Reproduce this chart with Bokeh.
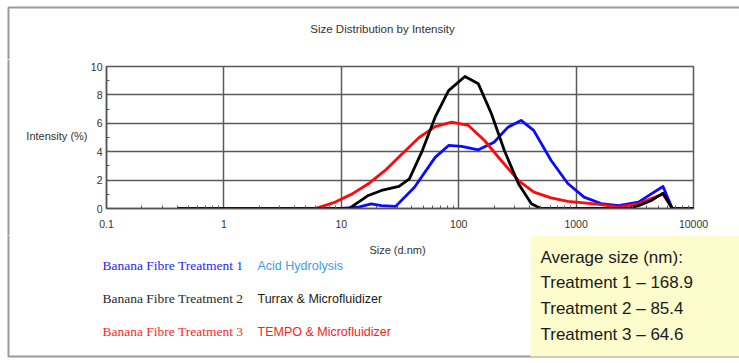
from bokeh.plotting import figure
from bokeh.models import (Label, BoxAnnotation, FixedTicker, CustomJSTickFormatter,
                          SingleIntervalTicker, Range1d, Span)
from bokeh.layouts import column, row
from bokeh.embed import file_html
from bokeh.resources import INLINE

# ---- data ----
t1_size = [0.4, 10, 14, 18, 22, 29, 42, 63, 82, 106, 147, 200, 263, 340, 435, 613,
           850, 1170, 1630, 2300, 3400, 4370, 5500, 6600, 10000]
t1_int = [0, 0, 0.1, 0.33, 0.2, 0.15, 1.5, 3.6, 4.44, 4.37, 4.13, 4.67, 5.73, 6.2, 5.5, 3.38,
          1.76, 0.8, 0.35, 0.2, 0.45, 1.03, 1.55, 0, 0]

t2_size = [0.4, 11.7, 14, 17, 22, 31, 38, 49, 63, 82, 113, 147, 190, 245, 323, 416, 500,
           2800, 3400, 4370, 5500, 6600, 10000]
t2_int = [0, 0, 0.45, 0.92, 1.27, 1.55, 2.09, 4.08, 6.43, 8.3, 9.3, 8.78, 6.67, 4.08, 1.74, 0.33, 0,
          0, 0.2, 0.56, 1.08, 0, 0]

t3_size = [0.4, 6, 8.9, 12.4, 17, 23.6, 33, 46, 63, 87, 121, 166, 230, 323, 437, 613, 850,
           1170, 1630, 2300, 3400, 4370, 5500, 6600, 10000]
t3_int = [0, 0, 0.45, 1.03, 1.74, 2.68, 3.85, 5.0, 5.77, 6.08, 5.85, 4.79, 3.38, 1.97, 1.15, 0.75, 0.5,
          0.4, 0.28, 0.1, 0.33, 0.7, 1.0, 0, 0]

x_ticks = [0.1, 1, 10, 100, 1000, 10000]
x_tick_labels = ["0.1", "1", "10", "100", "1000", "10000"]

title_text = "Size Distribution by Intensity"
y_label = "Intensity (%)"
x_label = "Size (d.nm)"
legend_left = ["Banana Fibre Treatment 1", "Banana Fibre Treatment 2", "Banana Fibre Treatment 3"]
legend_right = ["Acid Hydrolysis", "Turrax & Microfluidizer", "TEMPO & Microfluidizer"]
avg_lines = ["Average size (nm):", "Treatment 1 \u2013 168.9", "Treatment 2 \u2013 85.4",
             "Treatment 3 \u2013 64.6"]

# ---- layout (page pixel positions) ----
W = 739
ROW_A = 59      # top strip height (title)
ROW_B_END = 235  # chart row ends here
H = 362
LW = 87         # width of the strip left of the chart figure
BORDER = "#9a9a9a"


def panel(w, x0, x1, ytop, ybot):
    f = figure(width=w, height=ybot - ytop, x_range=Range1d(x0, x1), y_range=Range1d(ybot, ytop),
               output_backend="svg", toolbar_location=None, min_border=0,
               x_axis_location=None, y_axis_location=None, outline_line_color=None,
               background_fill_color="white", border_fill_color="white")
    f.xgrid.visible = False
    f.ygrid.visible = False
    f.frame_align = False
    return f


def lab(f, text, px, py, size, color, font="Liberation Sans", align="left"):
    f.add_layout(Label(x=px, y=py, text=text, text_font=font, text_font_size=size,
                       text_color=color, text_align=align, text_baseline="middle"))


# --- top strip ---
top = panel(W, 0, W, 0, ROW_A)
top.line([8, 8, W + 5], [ROW_A + 2, 7, 7], line_color=BORDER, line_width=2)
lab(top, title_text, 382, 28, "11.5px", "#333333", align="center")

# --- left strip ---
left = panel(LW, 0, LW, ROW_A, ROW_B_END)
left.add_layout(Span(location=8, dimension="height", line_color=BORDER, line_width=2))
lab(left, y_label, LW, 135, "11px", "#333333", align="right")

# --- chart ---
p = figure(width=W - LW, height=ROW_B_END - ROW_A, x_axis_type="log",
           x_range=(0.1, 10000), y_range=(0, 10),
           output_backend="svg", toolbar_location=None,
           min_border_left=16, min_border_right=46, min_border_top=66 - ROW_A,
           min_border_bottom=ROW_B_END - 208,
           background_fill_color="white", border_fill_color="white")
p.frame_align = False

p.xaxis.ticker = FixedTicker(ticks=x_ticks,
                             minor_ticks=[m * 10 ** e for e in range(-1, 4) for m in range(2, 10)])
p.xgrid.ticker = FixedTicker(ticks=x_ticks)
p.xaxis.formatter = CustomJSTickFormatter(args=dict(tvals=x_ticks, tlabs=x_tick_labels),
                                          code="""
for (let i = 0; i < tvals.length; i++) { if (Math.abs(tvals[i] - tick) < 1e-9 * tvals[i]) return tlabs[i]; }
return '';
""")
p.yaxis.ticker = SingleIntervalTicker(interval=2, num_minor_ticks=2)
p.ygrid.ticker = SingleIntervalTicker(interval=2)

for ax in (p.xaxis, p.yaxis):
    ax.axis_line_color = "#555555"
    ax.axis_line_width = 1.5
    ax.major_tick_line_color = "#555555"
    ax.minor_tick_line_color = "#555555"
    ax.major_tick_in = 0
    ax.major_tick_out = 0
    ax.minor_tick_in = 3
    ax.minor_tick_out = 0
    ax.major_label_text_font = "Liberation Sans"
    ax.major_label_text_font_size = "10.5px"
    ax.major_label_text_color = "#333333"
p.xaxis.major_label_standoff = 11
p.yaxis.major_label_standoff = 4

for g in (p.xgrid, p.ygrid):
    g.grid_line_color = "#5a5a5a"
    g.grid_line_width = 1.5
p.outline_line_color = "#5a5a5a"
p.outline_line_width = 1.5

p.line(t1_size, t1_int, line_color="#0a0aff", line_width=2.8, line_join="round")
p.line(t3_size, t3_int, line_color="#ff0a0a", line_width=2.8, line_join="round")
p.line(t2_size, t2_int, line_color="#000000", line_width=2.8, line_join="round")

# --- bottom strip ---
bot = panel(W, 0, W, ROW_B_END, H)
bot.add_layout(BoxAnnotation(left=530, right=W + 5, top=ROW_B_END, bottom=356,
                             fill_color="#fdfccc", fill_alpha=1, line_alpha=0))
bot.line([8, 8, W + 5], [ROW_B_END - 2, 356, 356], line_color=BORDER, line_width=2)
lab(bot, x_label, 397, 249, "11px", "#333333", align="center")

left_colors = ["#2626ff", "#2a2a2a", "#ff2a2a"]
right_colors = ["#3a9cf0", "#1a1a1a", "#ff2020"]
rows_y = [265, 298, 331]
for t, c, y in zip(legend_left, left_colors, rows_y):
    lab(bot, t, 102, y, "13.5px", c, font="Liberation Serif")
for t, c, y in zip(legend_right, right_colors, rows_y):
    lab(bot, t, 257, y, "12.5px", c)
for t, y in zip(avg_lines, [257, 282, 308, 334]):
    lab(bot, t, 540, y, "17px", "#1a1a1a")

layout = column(top, row(left, p, spacing=0), bot, spacing=0)
open("out.html", "w").write(file_html(layout, INLINE))
